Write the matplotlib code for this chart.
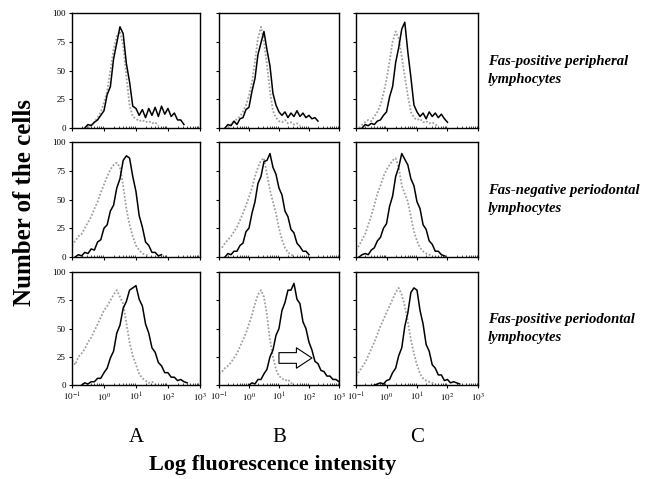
import numpy as np
import matplotlib
matplotlib.use("Agg")
import matplotlib.pyplot as plt

plt.rcParams['font.family'] = ['Liberation Serif', 'DejaVu Serif']
plt.rcParams['mathtext.fontset'] = 'stix'

N = float('nan')

# histogram channels, log10 of fluorescence intensity (0.1 decade per channel)
LOG_BINS = np.linspace(-1.0, 3.0, 41)

# row 1: Fas-positive peripheral lymphocytes
BLACK_1A = [N, N, N, N, 0, 3, 2, 5, 7, 11, 15, 29, 36, 60, 74, 88, 82, 56, 40, 19,
            17, 11, 16, 9, 17, 11, 18, 10, 19, 12, 17, 10, 13, 7, 7, 3, N, N, N, N, N]
GRAY_1A = [N, N, N, N, N, 0, 3, 5, 9, 14, 22, 32, 50, 68, 80, 84, 72, 45, 20, 10,
           8, 6, 7, 5, 6, 4, 5, 2, N, N, N, N, N, N, N, N, N, N, N, N, N]
BLACK_1B = [N, N, 0, 3, 2, 6, 3, 8, 9, 16, 18, 32, 43, 64, 74, 84, 68, 54, 30, 20,
            14, 11, 14, 9, 13, 10, 15, 10, 13, 9, 11, 8, 9, 6, N, N, N, N, N, N, N]
GRAY_1B = [N, N, N, 0, 3, 5, 8, 10, 14, 20, 28, 40, 58, 78, 88, 75, 55, 32, 15, 9,
           6, 5, 7, 4, 5, 3, 4, 2, N, N, N, N, N, N, N, N, N, N, N, N, N]
BLACK_1C = [N, N, 0, 3, 2, 4, 3, 6, 7, 11, 14, 27, 36, 57, 70, 86, 92, 66, 44, 20,
            14, 10, 13, 8, 14, 10, 13, 9, 12, 8, 5, N, N, N, N, N, N, N, N, N, N]
GRAY_1C = [N, 0, 3, 5, 7, 6, 10, 14, 20, 30, 42, 58, 75, 84, 78, 62, 45, 28, 14, 9,
           7, 8, 5, 6, 4, 5, 3, 2, N, N, N, N, N, N, N, N, N, N, N, N, N]

# row 2: Fas-negative periodontal lymphocytes
BLACK_2A = [N, 0, 2, 1, 4, 3, 7, 6, 13, 15, 25, 28, 40, 45, 60, 68, 84, 88, 86, 70,
            57, 36, 26, 13, 10, 4, 4, 1, 2, N, N, N, N, N, N, N, N, N, N, N, N]
GRAY_2A = [10, 14, 18, 20, 25, 30, 35, 42, 48, 56, 63, 70, 76, 80, 82, 78, 62, 42, 28, 18,
           10, 6, 3, 2, 1, N, N, N, N, N, N, N, N, N, N, N, N, N, N, N, N]
BLACK_2B = [N, N, 0, 3, 2, 5, 5, 10, 12, 22, 25, 38, 48, 64, 70, 83, 84, 90, 78, 72,
            60, 54, 40, 35, 24, 21, 12, 9, 5, 5, 2, N, N, N, N, N, N, N, N, N, N]
GRAY_2B = [N, 8, 12, 15, 18, 22, 26, 32, 38, 45, 52, 60, 70, 78, 84, 86, 72, 58, 48, 38,
           25, 15, 8, 4, 2, 1, N, N, N, N, N, N, N, N, N, N, N, N, N, N, N]
BLACK_2C = [N, 0, 2, 3, 2, 6, 8, 14, 17, 25, 29, 44, 53, 70, 78, 90, 85, 80, 68, 62,
            48, 42, 28, 24, 14, 11, 5, 5, 2, 1, N, N, N, N, N, N, N, N, N, N, N]
GRAY_2C = [6, 10, 15, 20, 28, 36, 45, 55, 62, 70, 76, 80, 84, 86, 78, 62, 55, 48, 35, 22,
           14, 8, 5, 3, 2, 1, N, N, N, N, N, N, N, N, N, N, N, N, N, N, N]

# row 3: Fas-positive periodontal lymphocytes
BLACK_3A = [N, N, N, 0, 2, 1, 3, 3, 6, 6, 11, 15, 24, 30, 46, 53, 68, 74, 84, 86,
            88, 76, 70, 54, 46, 33, 29, 20, 17, 11, 11, 7, 7, 4, 5, 3, 2, N, N, N, N]
GRAY_3A = [22, 18, 25, 28, 32, 38, 42, 48, 54, 60, 66, 70, 75, 80, 84, 78, 72, 55, 38, 26,
           18, 10, 6, 4, 2, 3, 1, N, N, N, N, N, N, N, N, N, N, N, N, N, N]
BLACK_3B = [N, N, N, N, N, N, N, N, N, N, 0, 2, 1, 5, 5, 10, 14, 25, 31, 44,
            50, 66, 73, 84, 84, 90, 76, 72, 56, 50, 38, 31, 21, 19, 13, 12, 8, 8, 5, 5, 3]
GRAY_3B = [10, 12, 15, 17, 20, 24, 28, 34, 40, 46, 54, 62, 72, 80, 84, 78, 62, 40, 25, 14,
           8, 6, 4, 5, 2, 1, N, N, N, N, N, N, N, N, N, N, N, N, N, N, N]
BLACK_3C = [N, N, N, N, N, N, 0, 1, 2, 1, 4, 5, 11, 15, 26, 33, 52, 64, 82, 86,
            84, 66, 54, 36, 30, 18, 15, 9, 9, 4, 5, 2, 3, 2, 1, N, N, N, N, N, N]
GRAY_3C = [8, 12, 16, 20, 26, 32, 38, 45, 52, 58, 64, 70, 76, 82, 86, 80, 70, 56, 40, 28,
           18, 10, 6, 4, 3, 2, 1, N, N, N, N, N, N, N, N, N, N, N, N, N, N]

ROW_LABELS = ["Fas-positive peripheral\nlymphocytes",
              "Fas-negative periodontal\nlymphocytes",
              "Fas-positive periodontal\nlymphocytes"]
COL_LABELS = ["A", "B", "C"]
Y_TICKS = [0, 25, 50, 75, 100]
X_TICK_EXP = [-1, 0, 1, 2, 3]

# arrow in panel B of the last row (intensity, count)
ARROW_TAIL = (10.0, 24)
ARROW_HEAD = (126.0, 24)

curves = [
    [(BLACK_1A, GRAY_1A), (BLACK_1B, GRAY_1B), (BLACK_1C, GRAY_1C)],
    [(BLACK_2A, GRAY_2A), (BLACK_2B, GRAY_2B), (BLACK_2C, GRAY_2C)],
    [(BLACK_3A, GRAY_3A), (BLACK_3B, GRAY_3B), (BLACK_3C, GRAY_3C)],
]

fig = plt.figure(figsize=(6.45, 4.79), dpi=100)

# panel boxes in figure fractions (left, width) and (bottom, height)
col_pos = [(0.1116, 0.1984), (0.3395, 0.186), (0.552, 0.189)]
row_pos = [(0.7328, 0.240), (0.4635, 0.240), (0.196, 0.236)]

x = 10 ** LOG_BINS
for r in range(3):
    for c in range(3):
        ax = fig.add_axes([col_pos[c][0], row_pos[r][0], col_pos[c][1], row_pos[r][1]])
        black, gray = curves[r][c]
        ax.plot(x, gray, color='#a0a0a0', lw=1.3, ls=(0, (1, 1)))
        ax.plot(x, black, color='black', lw=1.1)
        ax.set_xscale('log')
        ax.set_xlim(0.1, 1000)
        ax.set_ylim(0, 100)
        ax.set_yticks(Y_TICKS)
        ax.set_xticks([10.0 ** e for e in X_TICK_EXP])
        ax.tick_params(axis='both', which='major', direction='out', length=2.5, width=0.8,
                       labelsize=6.5, pad=2)
        ax.tick_params(axis='x', which='minor', direction='in', length=1.2, width=0.5)
        if c == 0:
            ax.set_yticklabels([str(t) for t in Y_TICKS])
        else:
            ax.set_yticklabels([])
        if r == 2:
            ax.set_xticklabels([r'$10^{%d}$' % e for e in X_TICK_EXP])
        else:
            ax.set_xticklabels([])
        ax.tick_params(axis='x', which='minor', labelbottom=False)
        for s in ax.spines.values():
            s.set_linewidth(1.0)
        if r == 2 and c == 1:
            ax.annotate('', xy=ARROW_HEAD, xytext=ARROW_TAIL,
                        arrowprops=dict(arrowstyle='simple,head_length=0.8,head_width=1.05,tail_width=0.55',
                                        fc='white', ec='black', lw=0.8, mutation_scale=14,
                                        shrinkA=0, shrinkB=0))
    fig.text(488 / 645, row_pos[r][0] + row_pos[r][1] / 2, ROW_LABELS[r],
             fontsize=10.5, fontweight='bold', fontstyle='italic',
             ha='left', va='center', linespacing=1.55)

for c in range(3):
    fig.text(col_pos[c][0] + col_pos[c][1] / 2, 1 - 437 / 479, COL_LABELS[c],
             fontsize=15, ha='center', va='center')

fig.text(25 / 645, 1 - 202 / 479, "Number of the cells", rotation=90,
         fontsize=18, fontweight='bold', ha='center', va='center')
fig.text(273 / 645, 1 - 465 / 479, "Log fluorescence intensity",
         fontsize=16, fontweight='bold', ha='center', va='center')

fig.savefig("out.png", dpi=100)
